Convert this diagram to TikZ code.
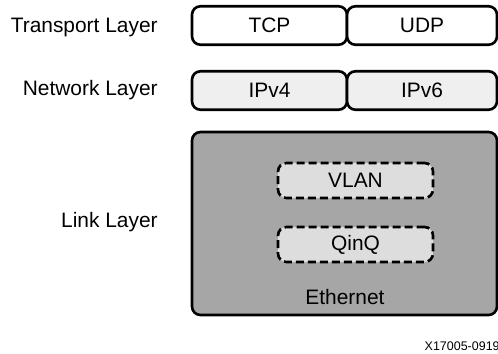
\documentclass[tikz,border=0pt]{standalone}
\usepackage{fontspec}
\setmainfont{Liberation Sans}
\usepackage{tikz}
\definecolor{ipfill}{HTML}{EFEFEF}
\definecolor{ethfill}{HTML}{A6A6A6}
\definecolor{tagfill}{HTML}{DDDDDD}
\tikzset{
    layer label/.style={anchor=east, inner sep=0pt, font=\fontsize{11.9}{14}\selectfont},
    proto box/.style={draw, line width=1.5pt, rounded corners=0.17cm, inner sep=0pt, outer sep=0pt,
        minimum height=0.77cm, font=\fontsize{11.9}{14}\selectfont},
    tag box/.style={proto box, dash pattern=on 0.16cm off 0.08cm, fill=tagfill,
        minimum width=3.1cm, minimum height=0.7cm},
}
\begin{document}
\begin{tikzpicture}
    \useasboundingbox (0,0) rectangle (9.96,7.06);
    \node[layer label] (transport) at (3.16,6.52) {Transport Layer};
    \node[layer label] (network) at (3.16,5.26) {Network Layer};
    \node[layer label] (link) at (3.16,2.62) {Link Layer};
    \node[proto box, fill=white, minimum width=3.1cm] (tcp) at (5.39,6.55) {TCP};
    \node[proto box, fill=white, minimum width=3.0cm] (udp) at (8.44,6.55) {UDP};
    \node[proto box, fill=ipfill, minimum width=3.1cm] (ipv4) at (5.39,5.25) {IPv4};
    \node[proto box, fill=ipfill, minimum width=3.0cm] (ipv6) at (8.44,5.25) {IPv6};
    \node[proto box, fill=ethfill, minimum width=6.1cm, minimum height=3.66cm] (eth) at (6.89,2.59) {};
    \node[tag box] (vlan) at (7.11,3.45) {VLAN};
    \node[tag box] (qinq) at (7.11,2.17) {QinQ};
    \node[font=\fontsize{11.9}{14}\selectfont] (ethname) at (6.9,1.12) {Ethernet};
    \node[anchor=east, inner sep=0pt, font=\fontsize{7.1}{8}\selectfont] (figid) at (10.0,0.14) {X17005-0919};
\end{tikzpicture}
\end{document}
